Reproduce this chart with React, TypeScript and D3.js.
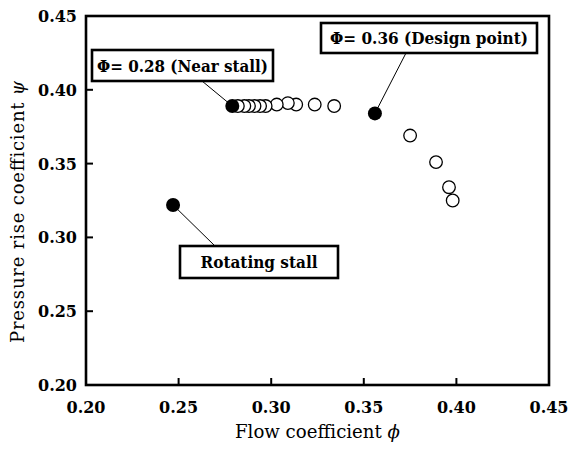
import React from "react";
import * as d3 from "d3";

const flowOpen = [0.282, 0.2855, 0.288, 0.291, 0.294, 0.297, 0.303, 0.309, 0.3135, 0.3235, 0.334, 0.375, 0.389, 0.396, 0.398];
const psiOpen = [0.389, 0.389, 0.389, 0.389, 0.389, 0.389, 0.39, 0.391, 0.39, 0.39, 0.389, 0.369, 0.351, 0.334, 0.325];

const flowFilled = [0.279, 0.356, 0.247];
const psiFilled = [0.389, 0.384, 0.322];
const filledLabels = ["\u03A6= 0.28 (Near stall)", "\u03A6= 0.36 (Design point)", "Rotating stall"];

const xTicks = [0.2, 0.25, 0.3, 0.35, 0.4, 0.45];
const yTicks = [0.2, 0.25, 0.3, 0.35, 0.4, 0.45];

const W = 570;
const H = 454;
const left = 86;
const right = 549;
const top = 16;
const bottom = 385;

// label box layout (pixel geometry, not data)
const boxes = [
  { x: 92, y: 50, w: 181, h: 31, ax: 202, ay: 81, tl: 171 },
  { x: 321, y: 23, w: 216, h: 30, ax: 406, ay: 53, tl: 198 },
  { x: 180, y: 246, w: 158, h: 32, ax: 215, ay: 246, tl: 117 },
];

const serif = "'DejaVu Serif', 'Liberation Serif', serif";

export default function App() {
  const x = d3.scaleLinear().domain([0.2, 0.45]).range([left, right]);
  const y = d3.scaleLinear().domain([0.2, 0.45]).range([bottom, top]);
  const fmt = d3.format(".2f");

  const openIdx = d3.range(flowOpen.length).reverse();

  return (
    <svg
      width={W}
      height={H}
      style={{ position: "absolute", left: 0, top: 0, background: "#fff" }}
      fontFamily={serif}
    >
      <rect x={0} y={0} width={W} height={H} fill="#fff" />
      {/* frame */}
      <rect x={left} y={top} width={right - left} height={bottom - top} fill="none" stroke="#000" strokeWidth={2.6} />
      {/* ticks */}
      {xTicks.slice(1, -1).map((t) => (
        <line key={"xt" + t} x1={x(t)} x2={x(t)} y1={bottom} y2={bottom - 7} stroke="#000" strokeWidth={2} />
      ))}
      {yTicks.slice(1, -1).map((t) => (
        <line key={"yt" + t} x1={left} x2={left + 7} y1={y(t)} y2={y(t)} stroke="#000" strokeWidth={2} />
      ))}
      {xTicks.map((t) => (
        <text key={"xl" + t} x={x(t)} y={413} textAnchor="middle" fontSize={16} fontWeight="bold">
          {fmt(t)}
        </text>
      ))}
      {yTicks.map((t) => (
        <text key={"yl" + t} x={77} y={y(t) + 6} textAnchor="end" fontSize={16} fontWeight="bold">
          {fmt(t)}
        </text>
      ))}
      {/* axis titles */}
      <text x={235} y={438} fontSize={18} textLength={165} lengthAdjust="spacingAndGlyphs">
        Flow coefficient{"  "}
        <tspan fontStyle="italic">{"\u03D5"}</tspan>
      </text>
      <text
        transform={`translate(24, 343) rotate(-90)`}
        fontSize={18}
        textLength={262}
        lengthAdjust="spacing"
      >
        Pressure rise coefficient{"  "}
        <tspan fontStyle="italic">{"\u03C8"}</tspan>
      </text>

      {/* leader lines */}
      {boxes.map((b, i) => (
        <line
          key={"ld" + i}
          x1={b.ax}
          y1={b.ay}
          x2={x(flowFilled[i])}
          y2={y(psiFilled[i])}
          stroke="#000"
          strokeWidth={1}
        />
      ))}

      {/* open circles */}
      {openIdx.map((i) => (
        <circle
          key={"o" + i}
          cx={x(flowOpen[i])}
          cy={y(psiOpen[i])}
          r={6.3}
          fill="#fff"
          stroke="#000"
          strokeWidth={1.3}
        />
      ))}
      {/* filled circles */}
      {flowFilled.map((f, i) => (
        <circle key={"f" + i} cx={x(f)} cy={y(psiFilled[i])} r={7} fill="#000" />
      ))}

      {/* label boxes */}
      {boxes.map((b, i) => (
        <g key={"b" + i}>
          <rect x={b.x} y={b.y} width={b.w} height={b.h} fill="#fff" stroke="#000" strokeWidth={2.6} />
          <text
            x={b.x + (b.w - b.tl) / 2}
            y={b.y + b.h / 2 + 6}
            fontSize={16}
            fontWeight="bold"
            textLength={b.tl}
            lengthAdjust="spacingAndGlyphs"
          >
            {filledLabels[i]}
          </text>
        </g>
      ))}
    </svg>
  );
}
